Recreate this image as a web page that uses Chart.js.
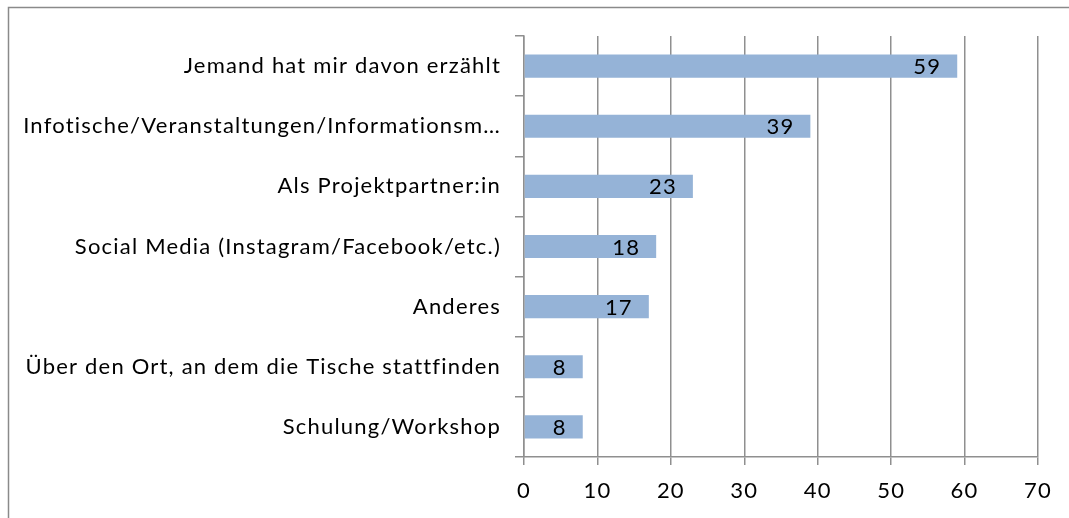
<!DOCTYPE html>
<html>
<head>
<meta charset="utf-8">
<script src="https://cdn.jsdelivr.net/npm/chart.js@4.4.1/dist/chart.umd.min.js"></script>
<style>
  html, body { margin: 0; padding: 0; background: #fff; }
  #wrap { width: 1069px; height: 518px; position: relative; }
</style>
</head>
<body>
<div id="wrap"><canvas id="myChart" width="1069" height="518"></canvas></div>
<script>
// Kategorien und Werte
var categories = [
    'Jemand hat mir davon erzählt',
    'Infotische/Veranstaltungen/Informationsm…',
    'Als Projektpartner:in',
    'Social Media (Instagram/Facebook/etc.)',
    'Anderes',
    'Über den Ort, an dem die Tische stattfinden',
    'Schulung/Workshop'
];
var counts = [59, 39, 23, 18, 17, 8, 8];
var xTicks = [0, 10, 20, 30, 40, 50, 60, 70];

var fontFamily = 'Lato, "Open Sans", sans-serif';
var fontSize = 22;
var spacing = '1.2px';
var gridColor = '#8f8f8f';

// Rahmen um das Diagramm (links und oben sichtbar) + Laufweite der Schrift
var framePlugin = {
    id: 'frame',
    beforeDraw: function(chart) {
        var c = chart.ctx;
        c.letterSpacing = spacing;
        c.save();
        c.strokeStyle = '#8a8a8a';
        c.lineWidth = 1.5;
        c.beginPath();
        c.moveTo(8.5, 530);
        c.lineTo(8.5, 7.5);
        c.lineTo(1080, 7.5);
        c.stroke();
        c.restore();
    }
};

// Werte innen am Balkenende
var valueLabels = {
    id: 'valueLabels',
    afterDatasetsDraw: function(chart) {
        var c = chart.ctx;
        var meta = chart.getDatasetMeta(0);
        c.save();
        c.letterSpacing = spacing;
        c.font = fontSize + 'px ' + fontFamily;
        c.fillStyle = '#000';
        c.textAlign = 'right';
        c.textBaseline = 'middle';
        meta.data.forEach(function(bar, i) {
            c.fillText(String(counts[i]), bar.x - 16, bar.y + 1);
        });
        c.restore();
    }
};

var ctx = document.getElementById('myChart').getContext('2d');
var myChart = new Chart(ctx, {
    type: 'bar',
    data: {
        labels: categories,
        datasets: [{
            data: counts,
            backgroundColor: '#95b3d7',
            borderWidth: 0,
            barPercentage: 0.385,
            categoryPercentage: 1
        }]
    },
    options: {
        indexAxis: 'y',
        responsive: false,
        animation: false,
        layout: { padding: { top: 36, right: 31, bottom: 0, left: 0 } },
        plugins: {
            legend: { display: false },
            tooltip: { enabled: false }
        },
        scales: {
            x: {
                min: 0,
                max: 70,
                afterBuildTicks: function(scale) {
                    scale.ticks = xTicks.map(function(v) { return { value: v }; });
                },
                afterFit: function(scale) { scale.height = 61; },
                grid: { color: gridColor, lineWidth: 1.5, tickLength: 8, drawTicks: true },
                border: { display: true, color: gridColor, width: 1.5 },
                ticks: {
                    color: '#000',
                    padding: 13,
                    font: { family: fontFamily, size: fontSize }
                }
            },
            y: {
                afterFit: function(scale) { scale.width = 524; },
                grid: { drawOnChartArea: false, drawTicks: true, tickLength: 9, color: gridColor, lineWidth: 1.5 },
                border: { display: true, color: gridColor, width: 1.5 },
                ticks: {
                    color: '#000',
                    padding: 14,
                    autoSkip: false,
                    font: { family: fontFamily, size: fontSize }
                }
            }
        }
    },
    plugins: [framePlugin, valueLabels]
});
</script>
</body>
</html>
